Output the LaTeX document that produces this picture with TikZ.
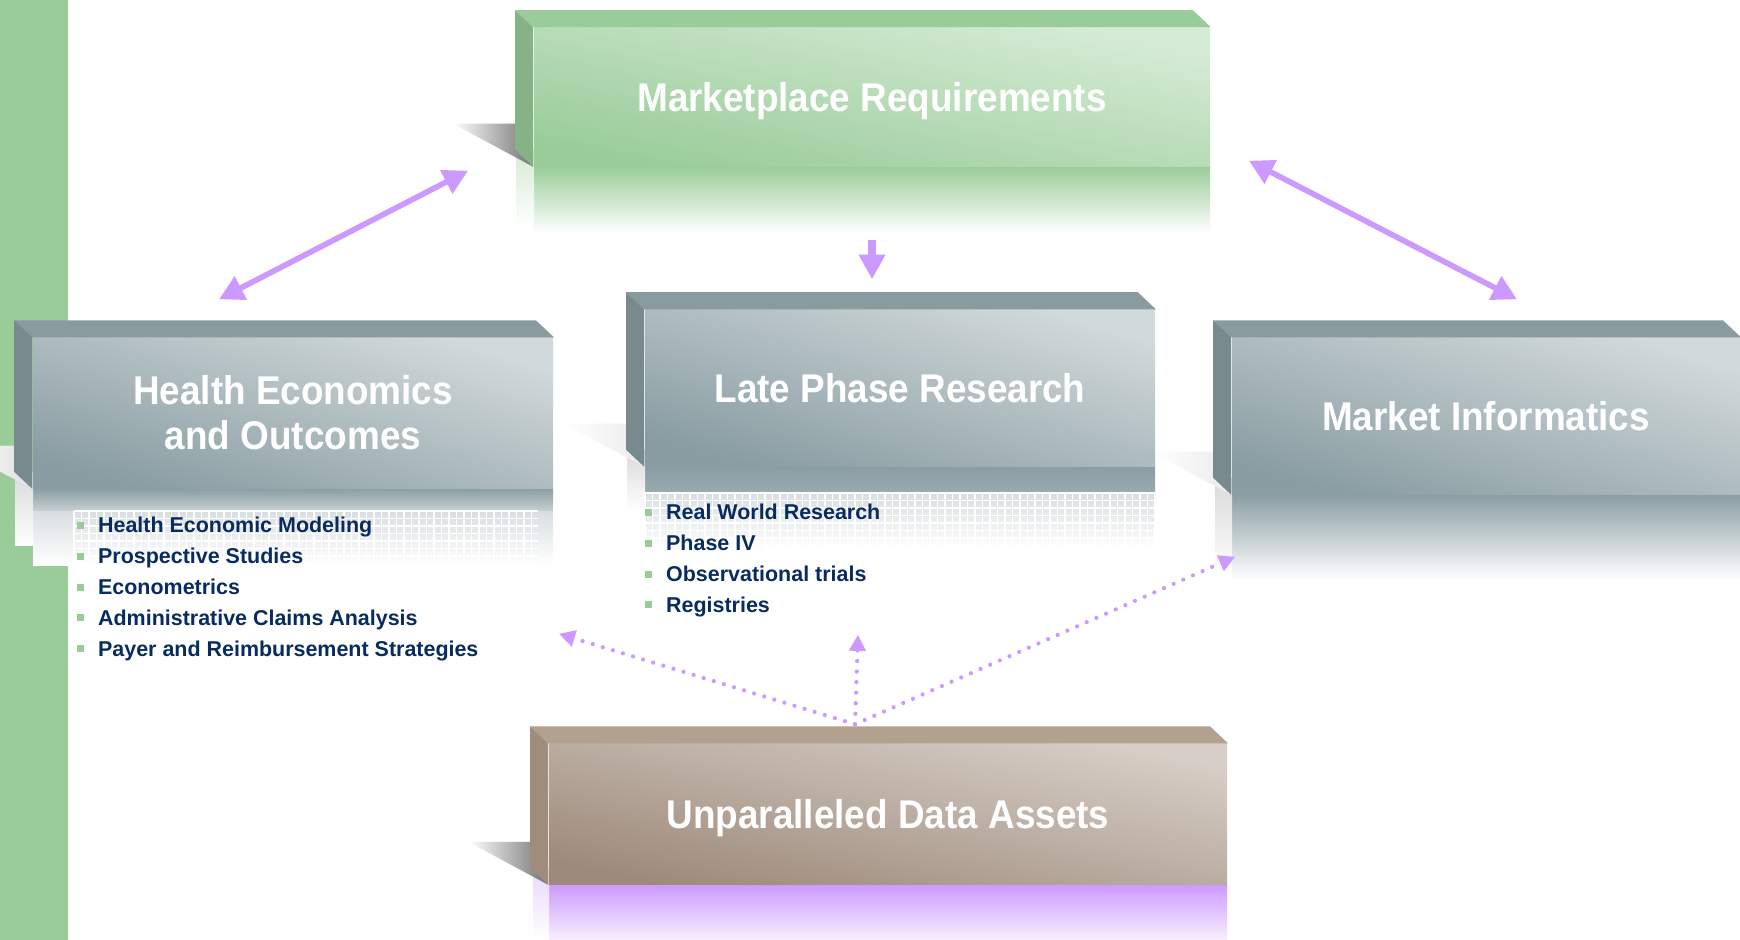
\documentclass[tikz,border=0pt]{standalone}
\usepackage{fontspec}
\setmainfont{Liberation Sans}
\newfontfamily\titlefont{Liberation Sans}[FakeStretch=0.92]
\usepackage{tikz}
\usetikzlibrary{arrows.meta,backgrounds}

\definecolor{bargreen}{RGB}{153,204,153}
\definecolor{mrlight}{RGB}{214,235,214}
\definecolor{mrgreen}{RGB}{153,204,153}
\definecolor{mrside}{RGB}{133,179,133}
\definecolor{graylight}{RGB}{210,217,219}
\definecolor{graydark}{RGB}{137,157,162}
\definecolor{graytop}{RGB}{137,155,159}
\definecolor{grayside}{RGB}{120,138,141}
\definecolor{reflgray}{RGB}{200,208,211}
\definecolor{tanlight}{RGB}{215,206,199}
\definecolor{tandark}{RGB}{157,138,122}
\definecolor{tantop}{RGB}{179,161,143}
\definecolor{tanside}{RGB}{159,140,123}
\definecolor{linkpurple}{RGB}{204,153,255}
\definecolor{itemnavy}{RGB}{8,44,96}

\newcommand{\bulletsq}{\textcolor{bargreen}{\rule[1.1pt]{2pt}{2pt}}\hspace{4.1pt}}

\tikzset{
  boxtitle/.style={inner sep=0pt, align=center, text=white, font=\titlefont\fontsize{11.4}{12.8}\selectfont\bfseries, text height=8pt, text depth=0pt},
  greenbox/.style={boxtitle, top color=mrlight, bottom color=mrgreen, shading angle=-12},
  graybox/.style={boxtitle, top color=graylight, bottom color=graydark, shading angle=-17},
  tanbox/.style={boxtitle, top color=tanlight, bottom color=tandark, shading angle=-12},
  item/.style={anchor=base west, inner sep=0pt, text=itemnavy, font=\fontsize{6.1}{7}\selectfont\bfseries},
  link/.style={draw=linkpurple, line width=1.6pt, >={Triangle[length=7pt,width=7.2pt]}},
  datalink/.style={draw=linkpurple, line width=1.2pt, line cap=round, dash pattern=on 0pt off 3pt, >={Triangle[length=4.6pt,width=4.6pt]}}
}

\begin{document}
\begin{tikzpicture}[x=0.01cm, y=-0.01cm]
\useasboundingbox (0,0) rectangle (1740,940);

\node[greenbox, minimum width=6.76cm, minimum height=1.38cm] (mr) at (872,97) {Marketplace Requirements};
\node[graybox, minimum width=5.2cm, minimum height=1.5cm, text height=20.8pt] (heo) at (293,413) {Health Economics\\and Outcomes};
\node[graybox, minimum width=5.1cm, minimum height=1.56cm] (lpr) at (900,388) {Late Phase Research};
\node[graybox, minimum width=5.08cm, minimum height=1.56cm] (mi) at (1486,416) {Market Informatics};
\node[tanbox, minimum width=6.78cm, minimum height=1.4cm] (uda) at (888,814) {Unparalleled Data Assets};

\foreach \n/\tc/\sc in {mr/mrgreen/mrside, heo/graytop/grayside, lpr/graytop/grayside, mi/graytop/grayside, uda/tantop/tanside} {
  \fill[\tc] (\n.north west) -- ++(-18,-17) -- ([shift={(-18,-17)}]\n.north east) -- (\n.north east) -- cycle;
  \fill[\sc] (\n.north west) -- ++(-18,-17) -- ([shift={(-18,-17)}]\n.south west) -- (\n.south west) -- cycle;
}

\foreach \t [count=\i] in {Health Economic Modeling, Prospective Studies, Econometrics, Administrative Claims Analysis, Payer and Reimbursement Strategies}
  \node[item] (heo\i) at (76,{502+30.8*\i}) {\bulletsq\t};
\foreach \t [count=\i] in {Real World Research, Phase IV, Observational trials, Registries}
  \node[item] (lpr\i) at (644,{489+30.8*\i}) {\bulletsq\t};

\coordinate (heoLink) at ([shift={(-74,-38)}]heo.north);
\coordinate (mrLinkL) at ([shift={(-65,4)}]mr.south west);
\coordinate (mrLinkR) at ([shift={(38,-6)}]mr.south east);
\coordinate (miLink) at ([shift={(31,-38)}]mi.north);
\coordinate (mrOut) at ([shift={(0,73)}]mr.south);
\coordinate (lprIn) at ([shift={(-28,-30)}]lpr.north);
\coordinate (udaOut) at ([shift={(-33,-19)}]uda.north);
\coordinate (heoData) at ([shift={(5,145)}]heo.south east);
\coordinate (lprData) at ([shift={(-42,168)}]lpr.south);
\coordinate (miData) at ([shift={(4,62)}]mi.south west);

\draw[link, <->] (heoLink) -- (mrLinkL);
\draw[link, <->] (mrLinkR) -- (miLink);
\draw[link, line width=2pt, ->] (mrOut) -- (lprIn);
\foreach \t in {heoData, lprData, miData}
  \draw[datalink, ->] (udaOut) -- (\t);

\begin{scope}[on background layer]
\fill[white] (0,0) rectangle (1740,940);
\fill[bargreen] (0,0) rectangle (68,940);
\shade[top color=mrgreen, bottom color=white] (534,166) rectangle (1210,233);
\shade[top color=mrgreen!40, bottom color=white] (516,150) rectangle (534,228);
\shade[top color=graydark, bottom color=reflgray] (33,488) rectangle (553,511);
\shade[top color=reflgray!70, bottom color=white] (33,511) rectangle (553,565);
\shade[top color=gray!30, bottom color=white] (15,472) rectangle (33,545);
\shade[top color=graydark, bottom color=graydark!85] (645,466) rectangle (1155,493);
\shade[top color=reflgray!70, bottom color=white] (645,493) rectangle (1155,550);
\shade[top color=gray!30, bottom color=white] (627,450) rectangle (645,510);
\foreach \x in {74,81.5,...,538} \draw[white, line width=0.4pt] (\x,511) -- (\x,565);
\foreach \y in {511,518.5,...,565} \draw[white, line width=0.4pt] (74,\y) -- (538,\y);
\foreach \x in {645,652.5,...,1155} \draw[white, line width=0.4pt] (\x,493) -- (\x,550);
\foreach \y in {493,500.5,...,550} \draw[white, line width=0.4pt] (645,\y) -- (1155,\y);
\shade[top color=graydark, bottom color=white] (1232,494) rectangle (1740,580);
\shade[top color=gray!30, bottom color=white] (1215,478) rectangle (1232,575);
\shade[top color=linkpurple, bottom color=linkpurple!15] (549,884) rectangle (1227,940);
\shade[top color=linkpurple!40, bottom color=white] (533,868) rectangle (549,940);
\foreach \n/\s in {mr/55, heo/12, lpr/8, mi/8, uda/55}
  \shade[left color=white, right color=black!\s] ([shift={(-80,-43)}]\n.south west) -- ([shift={(-18,-43)}]\n.south west) -- (\n.south west) -- cycle;
\end{scope}
\end{tikzpicture}
\end{document}
